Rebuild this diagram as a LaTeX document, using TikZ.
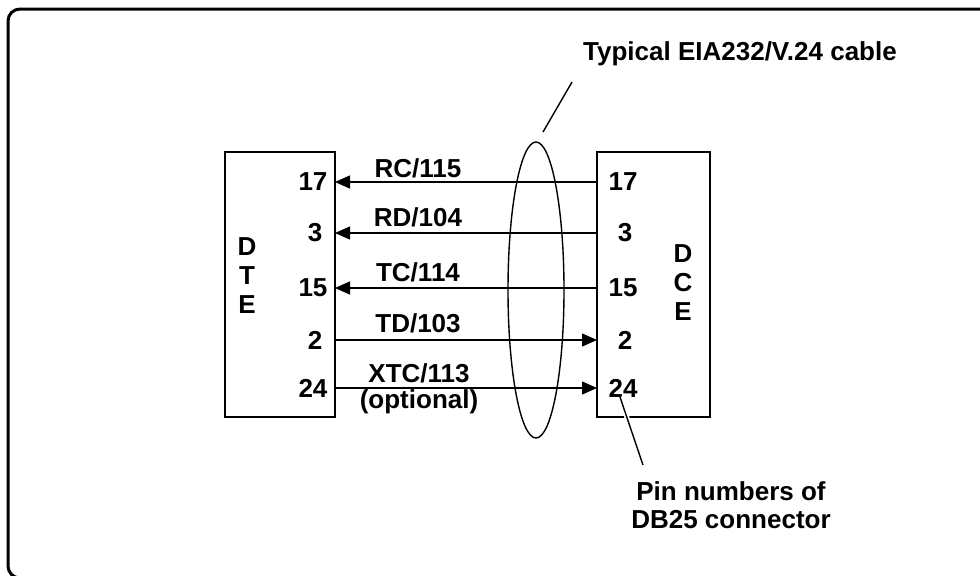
\documentclass[tikz,border=0pt]{standalone}
\usepackage{fontspec}
\setmainfont{Liberation Sans}
\usetikzlibrary{arrows.meta, shapes.geometric}
\tikzset{
  %% -- Frame and boxes ---------------------------------------------------
  cadre/.style     = {draw, line width=1.5pt, rounded corners=6pt},
  boite/.style     = {draw, line width=1.1pt, outer sep=0pt, inner sep=0pt},
  cable/.style     = {draw, ellipse, line width=0.7pt, inner sep=0pt,
                      minimum width=28pt, minimum height=148pt},
  %%
  %% -- Lines -------------------------------------------------------------
  fleche/.style    = {-{Triangle[length=7.5pt, width=6.5pt]}, line width=0.65pt},
  renvoi/.style    = {line width=0.7pt, preaction={draw=white, line width=2.5pt}},
  %%
  %% -- Text --------------------------------------------------------------
  etiquette/.style = {font=\fontsize{13}{14}\selectfont\bfseries,
                      inner sep=0.5pt, align=center},
  broche/.style    = {etiquette},
  lettres/.style   = {etiquette, font=\fontsize{13}{14.5}\selectfont\bfseries},
}

\begin{document}
\begin{tikzpicture}[x=0.5pt, y=-0.5pt]

\useasboundingbox (0, 0) rectangle (980, 575);
\draw[cadre] (8, 9) rectangle (995, 578);

\node[boite, minimum width=55pt, minimum height=132.5pt]   (dte) at (280, 284.5) {};
\node[boite, minimum width=56.5pt, minimum height=132.5pt] (dce) at (653.5, 284.5) {};

\node[lettres] (dteNom) at (247, 276) {D\\T\\E};
\node[lettres] (dceNom) at (683, 283) {D\\C\\E};

%% pin numbers on either side
\node[broche] (t17) at (313, 182) {17};
\node[broche] (t3)  at (315, 233) {3};
\node[broche] (t15) at (313, 288) {15};
\node[broche] (t2)  at (315, 340) {2};
\node[broche] (t24) at (313, 388) {24};
\node[broche] (c17) at (623, 182) {17};
\node[broche] (c3)  at (625, 233) {3};
\node[broche] (c15) at (623, 288) {15};
\node[broche] (c2)  at (625, 340) {2};
\node[broche] (c24) at (623, 388) {24};

\draw[fleche] (dce.west |- c17) -- (dte.east |- t17);
\draw[fleche] (dce.west |- c3)  -- (dte.east |- t3);
\draw[fleche] (dce.west |- c15) -- (dte.east |- t15);
\draw[fleche] (dte.east |- t2)  -- (dce.west |- c2);
\draw[fleche] (dte.east |- t24) -- (dce.west |- c24);

\node[etiquette] (rc)  at (418, 168) {RC/115};
\node[etiquette] (rd)  at (418, 217) {RD/104};
\node[etiquette] (tc)  at (418, 272) {TC/114};
\node[etiquette] (td)  at (418, 323) {TD/103};
\node[etiquette] (xtc) at (419, 373) {XTC/113};
\node[etiquette] (opt) at (419, 402) {(optional)};

\node[cable] (gaine) at (536, 290) {};

%% callouts
\node[etiquette] (titreCable) at (740, 54) {Typical EIA232/V.24 cable};
\coordinate (cableHaut) at (572, 82);
\coordinate (cableBas)  at (543, 132);
\draw[renvoi] (cableHaut) -- (cableBas);

\node[etiquette] (titreBroche) at (731, 505) {Pin numbers of\\DB25 connector};
\coordinate (brocheHaut) at (620, 397);
\coordinate (brocheBas)  at (643, 465);
\draw[renvoi] (brocheHaut) -- (brocheBas);

\end{tikzpicture}
\end{document}
